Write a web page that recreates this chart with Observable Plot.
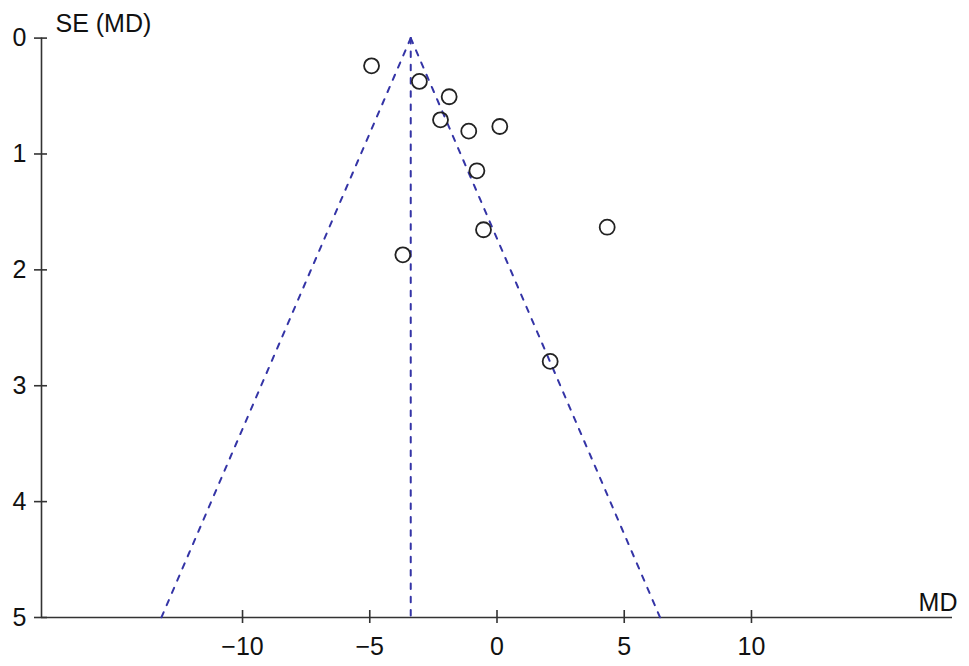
<!DOCTYPE html>
<html>
<head>
<meta charset="utf-8">
<script src="https://cdn.jsdelivr.net/npm/d3@7"></script>
<script src="https://cdn.jsdelivr.net/npm/@observablehq/plot@0.6"></script>
<style>
  html, body { margin: 0; padding: 0; background: #fff; }
  #chart svg { display: block; }
</style>
</head>
<body>
<div id="chart"></div>
<script>
// Study estimates (mean difference) and their standard errors
const md = [-4.93, -3.05, -1.88, -2.22, -1.11, 0.11, -0.79, -0.53, 4.33, -3.70, 2.09];
const se = [0.239, 0.374, 0.506, 0.705, 0.803, 0.763, 1.145, 1.654, 1.632, 1.870, 2.790];
const pooledMD = -3.39;
const seMax = 5;
const xTicks = [-10, -5, 0, 5, 10];
const yTicks = [0, 1, 2, 3, 4, 5];
const xDomain = [-17.9, 17.9];

const studies = md.map((m, i) => ({md: m, se: se[i]}));
const funnelLeft = [{x: pooledMD, y: 0}, {x: pooledMD - 1.96 * seMax, y: seMax}];
const funnelRight = [{x: pooledMD, y: 0}, {x: pooledMD + 1.96 * seMax, y: seMax}];
const funnelMid = [{x: pooledMD, y: 0}, {x: pooledMD, y: seMax}];

const font = "'Liberation Sans', Arial, Helvetica, sans-serif";
const axisColor = "#333";
const dashColor = "#3434a6";
const dash = "5.5,7.8";

const chart = Plot.plot({
  width: 969,
  height: 666,
  marginLeft: 41,
  marginRight: 17,
  marginTop: 37.6,
  marginBottom: 49,
  style: {fontFamily: font, fontSize: "25px", color: "#111", background: "#fff"},
  x: {domain: xDomain, axis: null},
  y: {domain: [0, seMax], reverse: true, axis: null},
  marks: [
    // axis lines
    Plot.ruleX([xDomain[0]], {y1: 0, y2: seMax, stroke: axisColor, strokeWidth: 1.6}),
    Plot.ruleY([seMax], {x1: xDomain[0], x2: xDomain[1], stroke: axisColor, strokeWidth: 1.6}),
    // tick marks crossing the axis lines
    Plot.axisX({ticks: xTicks, tickSize: 13, dy: -7, tickFormat: () => "", stroke: axisColor, strokeWidth: 1.6, label: null}),
    Plot.axisY({ticks: yTicks, tickSize: 13, dx: 6, tickFormat: () => "", stroke: axisColor, strokeWidth: 1.6, label: null}),
    // tick labels
    Plot.axisX({ticks: xTicks, tickSize: 0, tickPadding: 20, tickFormat: d => d < 0 ? "\u2212" + Math.abs(d) : String(d), fill: "#111", fontSize: 25, label: null}),
    Plot.axisY({ticks: yTicks, tickSize: 0, tickPadding: 15, tickFormat: d => String(d), fill: "#111", fontSize: 25, label: null}),
    // funnel
    Plot.line(funnelLeft, {x: "x", y: "y", stroke: dashColor, strokeWidth: 2, strokeDasharray: dash}),
    Plot.line(funnelRight, {x: "x", y: "y", stroke: dashColor, strokeWidth: 2, strokeDasharray: dash}),
    Plot.line(funnelMid, {x: "x", y: "y", stroke: dashColor, strokeWidth: 2, strokeDasharray: dash}),
    // studies
    Plot.dot(studies, {x: "md", y: "se", r: 7.5, stroke: "#222", strokeWidth: 1.8, fill: "none"}),
    // axis titles
    Plot.text(["SE (MD)"], {frameAnchor: "top-left", text: d => d, textAnchor: "start", lineAnchor: "bottom", dx: 14, dy: -6, fontSize: 25, fill: "#111"}),
    Plot.text(["MD"], {frameAnchor: "bottom-right", text: d => d, textAnchor: "end", lineAnchor: "bottom", dx: 5, dy: -7, fontSize: 25, fill: "#111"})
  ]
});

document.getElementById("chart").appendChild(chart);
</script>
</body>
</html>
